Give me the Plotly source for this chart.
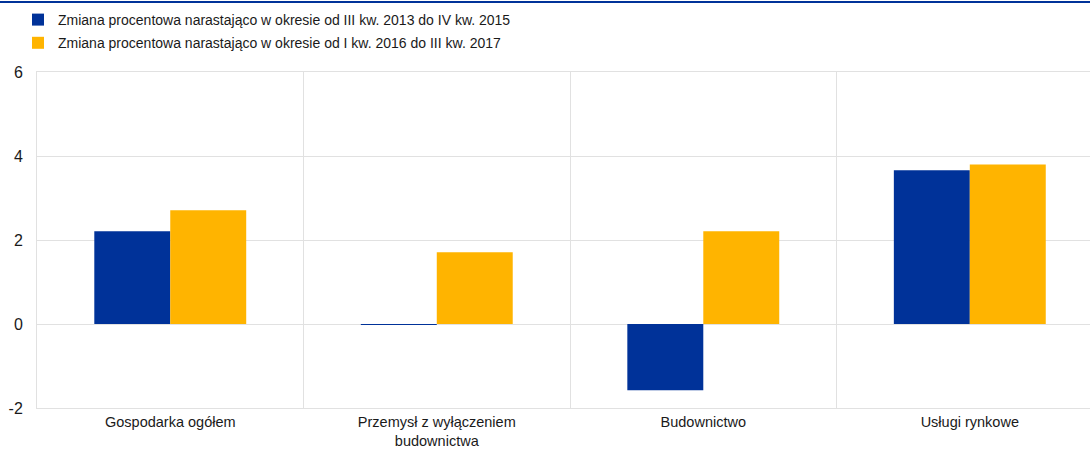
import plotly.graph_objects as go

categories = ["Gospodarka ogółem", "Przemysł z wyłączeniem<br>budownictwa", "Budownictwo", "Usługi rynkowe"]
series_names = [
    "Zmiana procentowa narastająco w okresie od III kw. 2013 do IV kw. 2015",
    "Zmiana procentowa narastająco w okresie od I kw. 2016 do III kw. 2017",
]
values_2013_2015 = [2.21, -0.02, -1.58, 3.66]
values_2016_2017 = [2.71, 1.71, 2.21, 3.80]
colors = ["#003299", "#FFB400"]
y_ticks = [-2, 0, 2, 4, 6]
y_tick_labels = ["-2", "0", "2", "4", "6"]

GRID = "#e1e1e1"

fig = go.Figure()
for i, (name, vals, col) in enumerate(zip(series_names, [values_2013_2015, values_2016_2017], colors)):
    fig.add_trace(go.Bar(
        x=categories, y=vals, name=name, legendgroup=f"g{i}",
        marker=dict(color=col, line=dict(width=0)),
    ))

PLOT_W = 1053
fig.update_layout(
    width=1090, height=450,
    margin=dict(l=37, r=0, t=72, b=42),
    paper_bgcolor="white", plot_bgcolor="white",
    barmode="group", bargap=0.43, bargroupgap=0,
    font=dict(family="Liberation Sans, Arial, sans-serif", size=14, color="#1a1a1a"),
    legend=dict(
        x=(18 - 37) / PLOT_W, y=1 - 4 / 450, xref="paper", yref="container",
        xanchor="left", yanchor="top", orientation="v",
        font=dict(size=14), itemwidth=30, tracegroupgap=2, traceorder="grouped",
        bgcolor="rgba(0,0,0,0)",
    ),
    showlegend=True,
    xaxis=dict(
        range=[-0.5, 3.451], tickson="boundaries", showgrid=True,
        gridcolor=GRID, gridwidth=1, ticks="", automargin=False,
        showline=True, linecolor=GRID, linewidth=1, mirror=True,
        tickfont=dict(size=14.5), zeroline=False, ticklabelstandoff=1,
    ),
    yaxis=dict(
        range=[-2, 6], tickvals=y_ticks, ticktext=y_tick_labels,
        showgrid=True, gridcolor=GRID, gridwidth=1, automargin=False,
        zeroline=True, zerolinecolor=GRID, zerolinewidth=1,
        showline=True, linecolor=GRID, linewidth=1, mirror=False,
        ticks="", ticklabelstandoff=10, tickfont=dict(size=16),
    ),
)
# dark blue rule along the top of the page
fig.add_shape(type="line", xref="paper", yref="paper", x0=-37 / PLOT_W, x1=1.0,
              y0=(448 - 42) / 336, y1=(448 - 42) / 336,
              line=dict(color="#003299", width=2))

fig.write_html("out.html")
